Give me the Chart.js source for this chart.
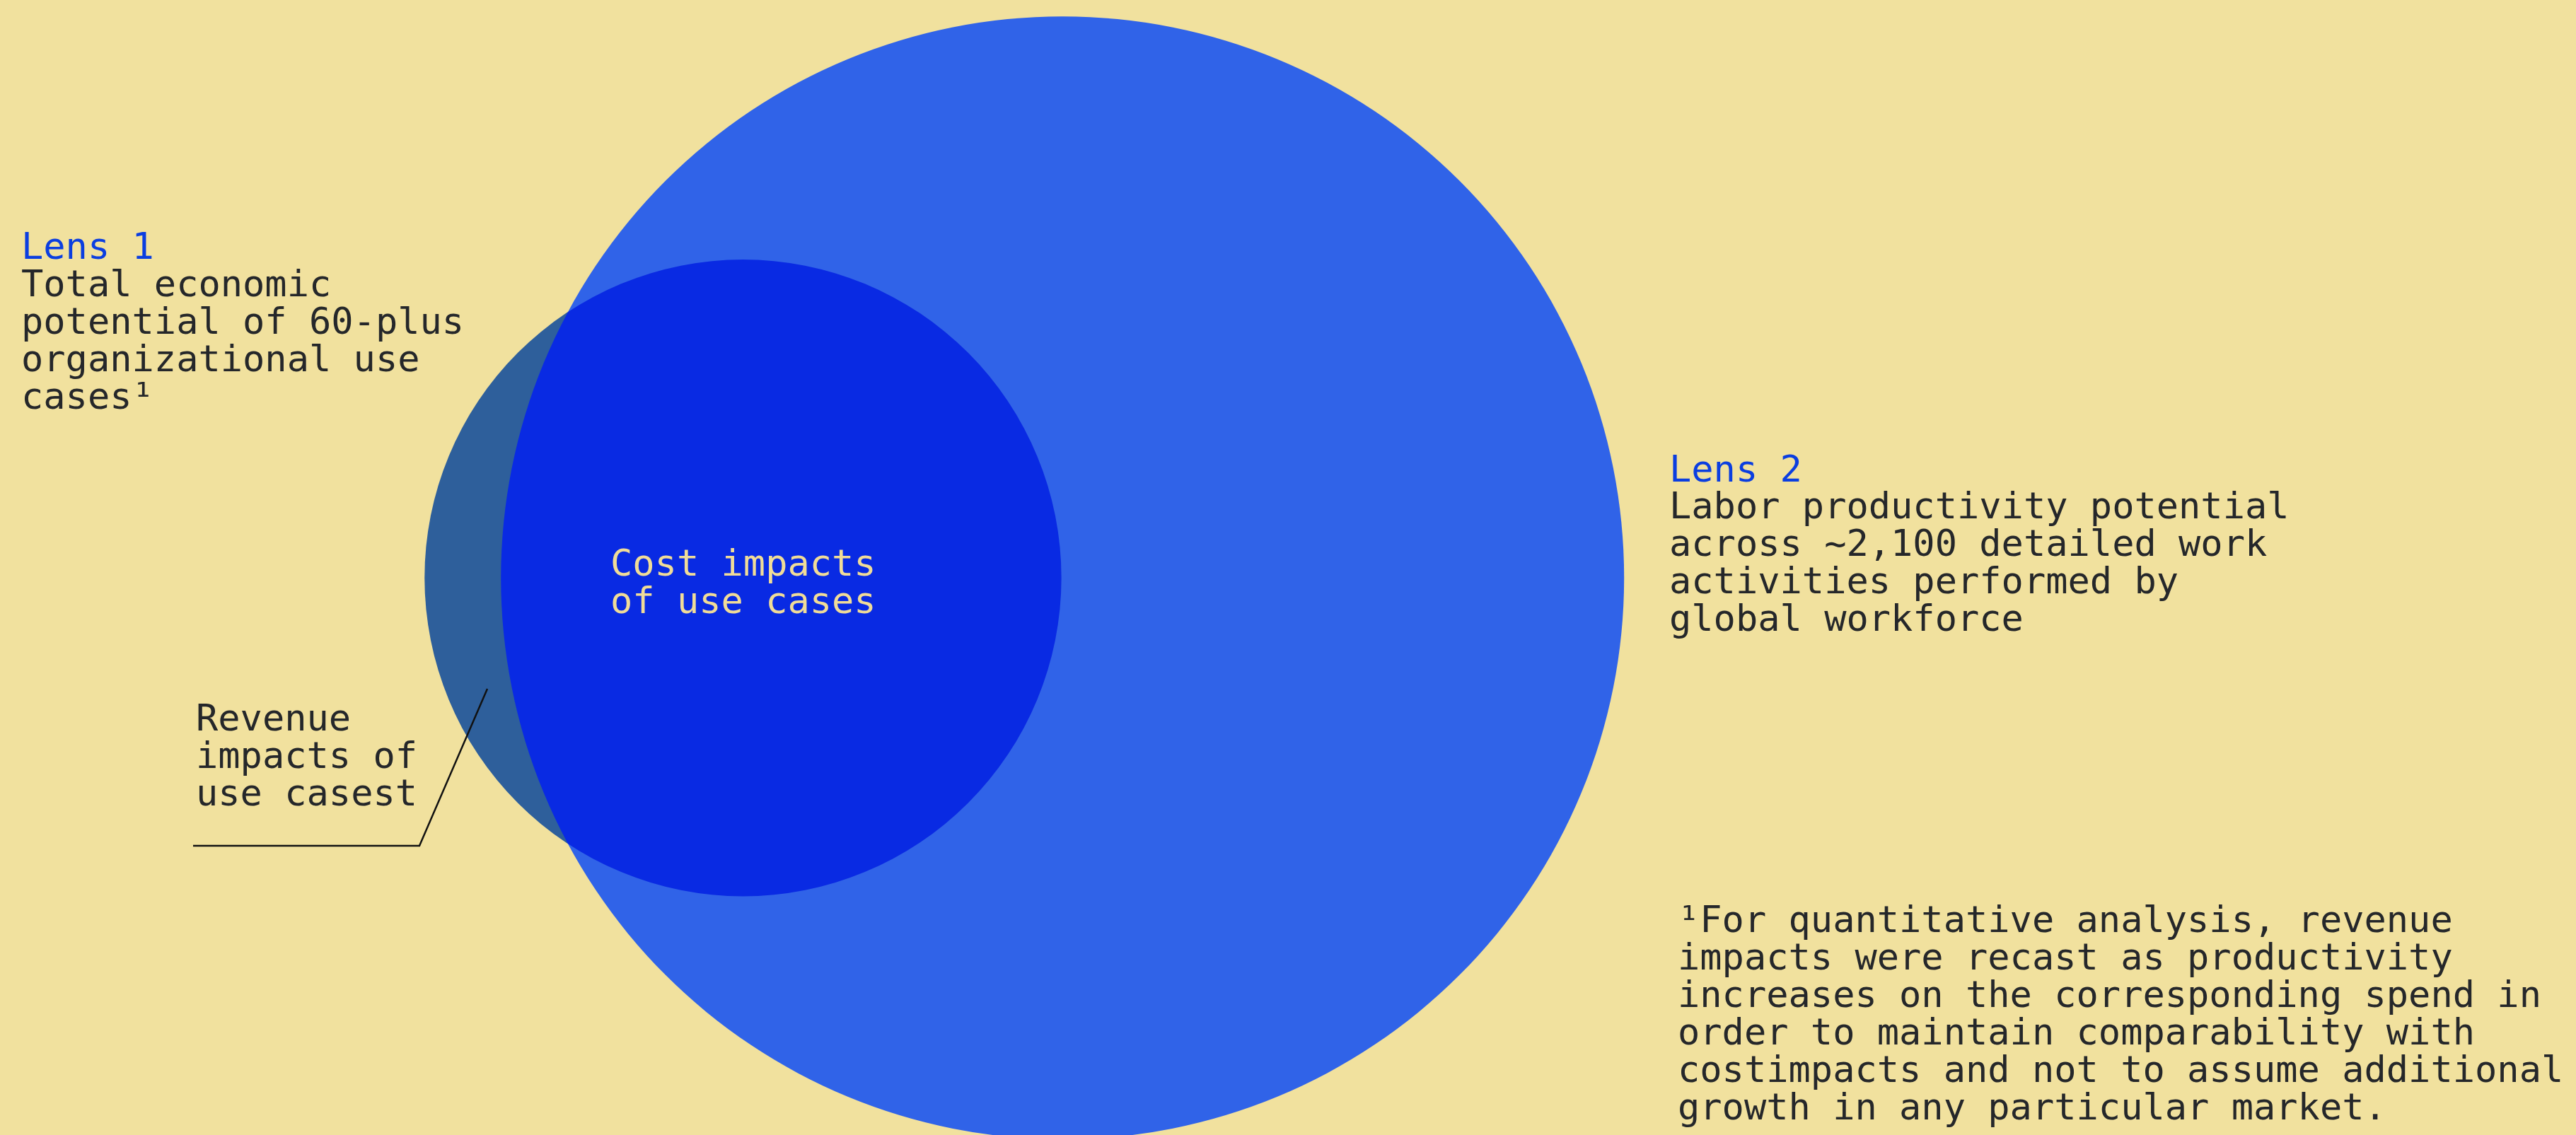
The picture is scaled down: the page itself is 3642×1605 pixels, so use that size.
<!DOCTYPE html>
<html>
<head>
<meta charset="utf-8">
<title>Two lenses</title>
<script src="https://cdn.jsdelivr.net/npm/chart.js@4.4.1/dist/chart.umd.min.js"></script>
<style>
    html, body { margin: 0; padding: 0; background: #f1e19e; overflow: hidden; }
    #venn-wrap { position: relative; width: 3642px; height: 1605px; }
</style>
</head>
<body>
<div id="venn-wrap"><canvas id="venn-chart"></canvas></div>
<script>
// Circle geometry, in units of the Lens 2 radius
const circleNames = ['Lens 1', 'Lens 2'];
const circleX = [-0.569, 0];
const circleY = [0, 0];
const circleR = [0.567, 1];

// Window shown around the circles
const xRange = [-1.892, 2.695];
const yRange = [-0.992, 1.029];

const lens1Lines = ['Total economic', 'potential of 60-plus', 'organizational use', 'cases\u00b9'];
const lens2Lines = ['Labor productivity potential', 'across ~2,100 detailed work', 'activities performed by', 'global workforce'];
const overlapLines = ['Cost impacts', 'of use cases'];
const revenueLines = ['Revenue', 'impacts of', 'use casest'];
const footnoteLines = [
    '\u00b9For quantitative analysis, revenue',
    'impacts were recast as productivity',
    'increases on the corresponding spend in',
    'order to maintain comparability with',
    'costimpacts and not to assume additional',
    'growth in any particular market.'
];

const PAPER = '#f1e19e';
const INK = '#25272a';
const LENS_BLUE = '#0b3ee0';
const FONT = '52px "DejaVu Sans Mono"';
const LINE_H = 53;

let vennChart = null;

// paper background, so the multiply blend has something to darken
const paperPlugin = {
    id: 'paper',
    beforeDraw(chart) {
        const ctx = chart.ctx;
        ctx.save();
        ctx.fillStyle = PAPER;
        ctx.fillRect(0, 0, chart.width, chart.height);
        ctx.restore();
    }
};

// lets a dataset pick its own composite mode
const blendPlugin = {
    id: 'blend',
    beforeDatasetDraw(chart, args) {
        const ds = chart.data.datasets[args.index];
        chart.ctx.save();
        if (ds.blend) chart.ctx.globalCompositeOperation = ds.blend;
    },
    afterDatasetDraw(chart) {
        chart.ctx.restore();
    }
};

function drawBlock(ctx, x, y, lines, color) {
    ctx.fillStyle = color;
    lines.forEach((line, i) => ctx.fillText(line, x, y + i * LINE_H));
}

const labelPlugin = {
    id: 'labels',
    afterDraw(chart) {
        const ctx = chart.ctx;
        ctx.save();
        ctx.font = FONT;
        ctx.textBaseline = 'alphabetic';
        ctx.textAlign = 'left';

        drawBlock(ctx, 30, 366, [circleNames[0]], LENS_BLUE);
        drawBlock(ctx, 30, 419, lens1Lines, INK);

        drawBlock(ctx, 2360, 681, [circleNames[1]], LENS_BLUE);
        drawBlock(ctx, 2360, 733, lens2Lines, INK);

        drawBlock(ctx, 863, 814, overlapLines, '#f0dc98');
        drawBlock(ctx, 277, 1033, revenueLines, INK);
        drawBlock(ctx, 2372, 1318, footnoteLines, INK);

        // leader line to the revenue crescent
        ctx.strokeStyle = '#111111';
        ctx.lineWidth = 2.5;
        ctx.beginPath();
        ctx.moveTo(273, 1196);
        ctx.lineTo(593, 1196);
        ctx.lineTo(689, 974);
        ctx.stroke();
        ctx.restore();
    }
};

// circle radius in data units -> pixels through the x scale
function radiusInPixels(ctx) {
    const xs = ctx.chart.scales.x;
    const px = xs.getPixelForValue(circleR[ctx.datasetIndex]) - xs.getPixelForValue(0);
    return isFinite(px) ? px : 0;
}

function renderVennChart() {
    const ctx = document.getElementById('venn-chart').getContext('2d');

    if (vennChart) {
        vennChart.destroy();
    }

    vennChart = new Chart(ctx, {
        type: 'scatter',
        data: {
            datasets: [{
                label: circleNames[0],
                data: [{ x: circleX[0], y: circleY[0] }],
                backgroundColor: 'rgb(48, 108, 250)',
                blend: 'multiply',
                order: 0,
                clip: false
            }, {
                label: circleNames[1],
                data: [{ x: circleX[1], y: circleY[1] }],
                backgroundColor: 'rgb(48, 99, 232)',
                order: 1,
                clip: false
            }]
        },
        options: {
            responsive: true,
            maintainAspectRatio: false,
            animation: false,
            events: [],
            layout: { padding: 0 },
            elements: {
                point: {
                    radius: radiusInPixels,
                    hoverRadius: radiusInPixels,
                    borderWidth: 0
                }
            },
            scales: {
                x: { type: 'linear', min: xRange[0], max: xRange[1], display: false },
                y: { type: 'linear', min: yRange[0], max: yRange[1], display: false }
            },
            plugins: {
                legend: { display: false },
                tooltip: { enabled: false }
            }
        },
        plugins: [paperPlugin, blendPlugin, labelPlugin]
    });
}

renderVennChart();
</script>
</body>
</html>
